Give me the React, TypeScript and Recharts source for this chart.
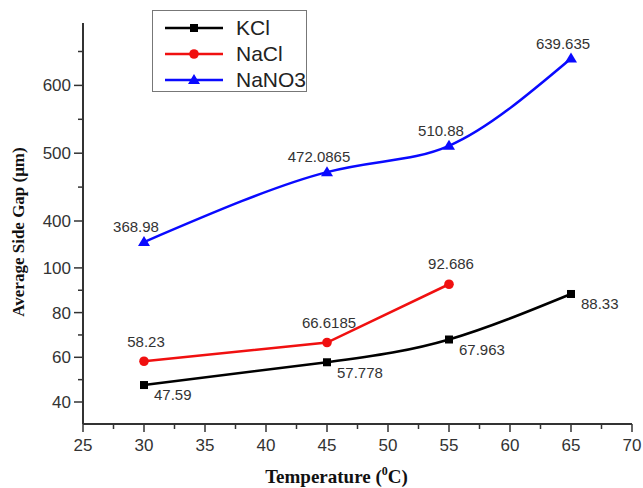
import React from 'react';
import { LineChart, Line, XAxis, YAxis, Legend } from 'recharts';

const temperatures = [30, 45, 55, 65];
const kcl = [47.59, 57.778, 67.963, 88.33];
const nacl = [58.23, 66.6185, 92.686];
const nano3 = [368.98, 472.0865, 510.88, 639.635];

const xTicks = [25, 27.5, 30, 32.5, 35, 37.5, 40, 42.5, 45, 47.5, 50, 52.5, 55, 57.5, 60, 62.5, 65, 67.5, 70];
const xMajor = [25, 30, 35, 40, 45, 50, 55, 60, 65, 70];
const yTicks = [40, 50, 60, 70, 80, 90, 100, 400, 450, 500, 550, 600, 650];
const yMajor = [40, 60, 80, 100, 400, 500, 600];

// broken y axis: lower part (~30-110) and upper part (~350-690) squeezed onto one axis
const toAxis = (v: number) => (v < 200 ? 22 + (v - 40) * 2.235 : 203 + (v - 400) * 0.678);
const fromAxis = (d: number) => (d < 180 ? 40 + (d - 22) / 2.235 : 400 + (d - 203) / 0.678);

const rows = temperatures.map((t, i) => ({
  t,
  KCl: toAxis(kcl[i]),
  NaCl: nacl[i] !== undefined ? toAxis(nacl[i]) : null,
  NaNO3: toAxis(nano3[i]),
}));

const sans = '"Liberation Sans", Arial, sans-serif';
const serif = '"Liberation Serif", "Times New Roman", serif';

const Marker = ({ kind, cx, cy, color }: { kind: string; cx: number; cy: number; color: string }) => {
  if (kind === 'square') return <rect x={cx - 4} y={cy - 4} width={8} height={8} fill={color} />;
  if (kind === 'circle') return <circle cx={cx} cy={cy} r={4.8} fill={color} />;
  return <polygon points={`${cx},${cy - 6} ${cx + 6},${cy + 4} ${cx - 6},${cy + 4}`} fill={color} />;
};

const series = [
  { key: 'KCl', raw: kcl, color: '#000000', marker: 'square', curve: 'natural', dx: 10, dy: 10, anchor: 'start' },
  { key: 'NaCl', raw: nacl, color: '#f01010', marker: 'circle', curve: 'linear', dx: 2, dy: -20, anchor: 'middle' },
  { key: 'NaNO3', raw: nano3, color: '#0a0aff', marker: 'triangle', curve: 'natural', dx: -8, dy: -15, anchor: 'middle' },
];

const YTick = (props: any) => {
  const { x, y, payload } = props;
  const v = Math.round(fromAxis(payload.value));
  const major = yMajor.includes(v);
  return (
    <g>
      <line x1={x - (major ? 9 : 5)} x2={x} y1={y} y2={y} stroke="#333" strokeWidth={1.5} />
      {major && (
        <text x={x - 12} y={y} dy="0.35em" textAnchor="end" fontFamily={sans} fontSize={17} fill="#333">
          {v}
        </text>
      )}
    </g>
  );
};

const XTick = (props: any) => {
  const { x, y, payload } = props;
  const major = xMajor.includes(payload.value);
  return (
    <g>
      <line x1={x} x2={x} y1={y} y2={y + (major ? 8 : 5)} stroke="#333" strokeWidth={1.5} />
      {major && (
        <text x={x} y={y + 27} textAnchor="middle" fontFamily={sans} fontSize={17} fill="#333">
          {payload.value}
        </text>
      )}
    </g>
  );
};

const XTitle = (props: any) => {
  const { viewBox } = props;
  const cx = viewBox.x + viewBox.width / 2 - 21;
  return (
    <text x={cx} y={483} textAnchor="middle" fontFamily={serif} fontWeight="bold" fontSize={19} fill="#111">
      Temperature (<tspan fontSize={12} dy={-8}>0</tspan>
      <tspan dy={8}>C)</tspan>
    </text>
  );
};

const YTitle = () => (
  <text
    x={18}
    y={232}
    transform="rotate(-90 18 232)"
    textAnchor="middle"
    dy="0.35em"
    fontFamily={serif}
    fontWeight="bold"
    fontSize={17}
    fill="#111"
  >
    Average Side Gap (μm)
  </text>
);

const renderLegend = () => (
  <div
    style={{
      width: 155,
      height: 82,
      border: '1px solid #777',
      background: '#fff',
      fontFamily: sans,
      fontSize: 21,
      color: '#222',
      paddingTop: 4,
      boxSizing: 'border-box',
    }}
  >
    {series.map((s) => (
      <div key={s.key} style={{ display: 'flex', alignItems: 'center', height: 26 }}>
        <svg width={73} height={16} style={{ marginLeft: 10 }}>
          <line x1={2} x2={60} y1={8} y2={8} stroke={s.color} strokeWidth={2.5} />
          <Marker kind={s.marker} cx={31} cy={8} color={s.color} />
        </svg>
        <span>{s.key}</span>
      </div>
    ))}
  </div>
);

export default function App() {
  return (
    <div style={{ position: 'absolute', left: 0, top: 0, background: '#fff' }}>
      <LineChart width={643} height={488} data={rows} margin={{ top: 23, right: 11, left: 0, bottom: 0 }}>
        <XAxis
          dataKey="t"
          type="number"
          domain={[25, 70]}
          ticks={xTicks}
          interval={0}
          height={64}
          tickSize={0}
          tickMargin={0}
          tickLine={false}
          tick={<XTick />}
          axisLine={{ stroke: '#333', strokeWidth: 2 }}
          label={<XTitle />}
        />
        <YAxis
          type="number"
          domain={[0, 401]}
          ticks={yTicks.map(toAxis)}
          interval={0}
          width={83}
          tickSize={0}
          tickMargin={0}
          tickLine={false}
          tick={<YTick />}
          axisLine={{ stroke: '#333', strokeWidth: 2 }}
          label={<YTitle />}
        />
        <Legend
          layout="vertical"
          align="center"
          verticalAlign="middle"
          content={renderLegend}
          wrapperStyle={{ left: 152, top: 10, width: 157 }}
        />
        {series.map((s) => (
          <Line
            key={s.key}
            dataKey={s.key}
            type={s.curve as any}
            stroke={s.color}
            strokeWidth={2.5}
            isAnimationActive={false}
            activeDot={false}
            dot={(p: any) => {
              if (p.cy == null || p.value == null) return <g key={`${s.key}-${p.index}`} />;
              return (
                <g key={`${s.key}-${p.index}`}>
                  <Marker kind={s.marker} cx={p.cx} cy={p.cy} color={s.color} />
                  <text
                    x={p.cx + s.dx}
                    y={p.cy + s.dy}
                    dy="0.35em"
                    textAnchor={s.anchor as any}
                    fontFamily={sans}
                    fontSize={15}
                    fill="#333"
                  >
                    {s.raw[p.index]}
                  </text>
                </g>
              );
            }}
          />
        ))}
      </LineChart>
    </div>
  );
}
